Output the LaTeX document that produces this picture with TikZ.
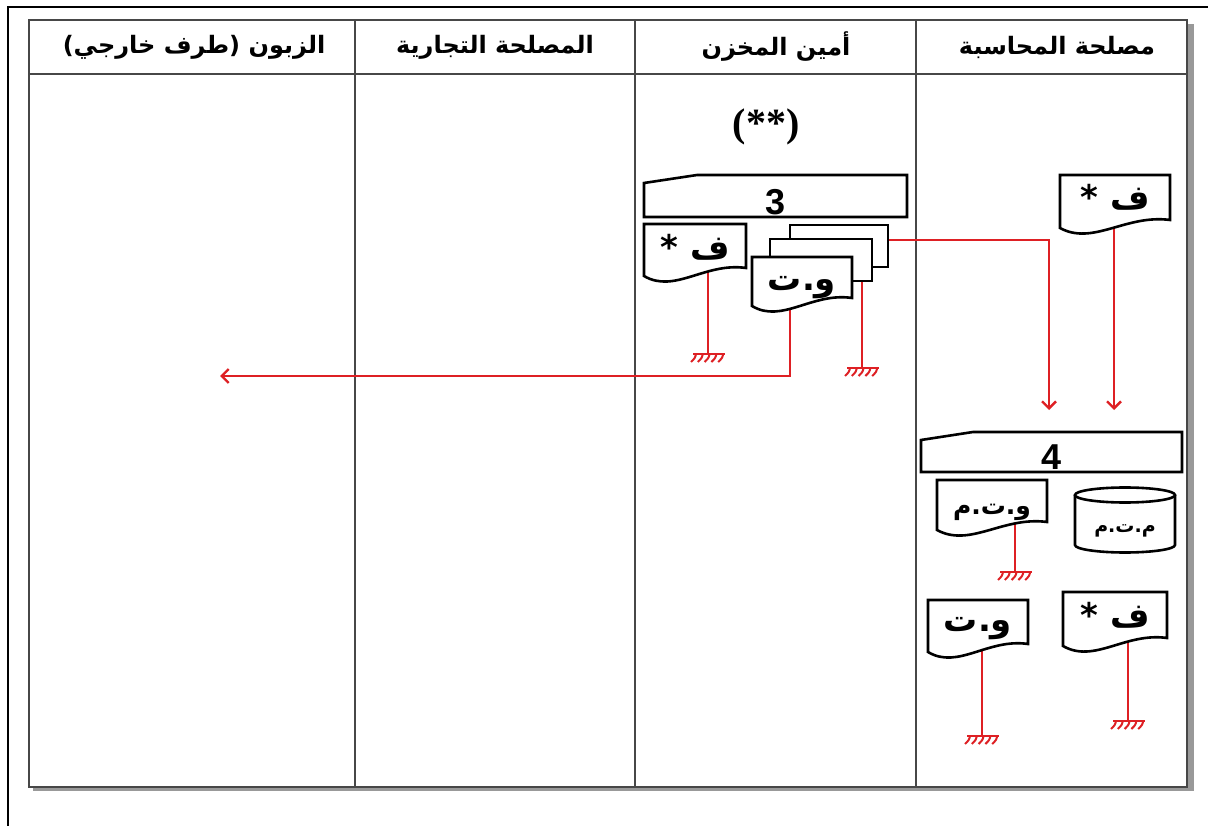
\documentclass[tikz,border=0pt]{standalone}
\usepackage{fontspec}
\newfontfamily\arabicfont[Script=Arabic]{DejaVu Sans}
\newfontfamily\latinsans{Liberation Sans}
\newfontfamily\latinserif{Liberation Serif}
\TeXXeTstate=1
\usetikzlibrary{calc,arrows.meta}
\definecolor{flowred}{RGB}{222,32,36}
\pgfdeclarelayer{lanes}
\pgfdeclarelayer{flowlines}
\pgfdeclarelayer{shapes}
\pgfsetlayers{lanes,flowlines,shapes,main}

% right-to-left bold Arabic text
\newcommand\artext[1]{\arabicfont\bfseries\beginR #1\endR}

% document symbol: name, left, top, right, bottom (left end of the wave), text, text y-offset
\newcommand\docsymbol[7]{%
  \begin{pgfonlayer}{shapes}
    \draw[outline] (#2,#3) -- (#4,#3) -- (#4,#5-8)
      .. controls ({#2+0.6*(#4-#2)},#5-14) and ({#2+0.3*(#4-#2)},#5+18) .. (#2,#5) -- cycle;
  \end{pgfonlayer}
  \node[doctext] (#1) at ({(#2+#4)/2},{(#3+#5)/2+#7}) {#6};
}
% process symbol with a slanted top-left corner: name, left, top, right, bottom, slant end, text
\newcommand\procsymbol[7]{%
  \begin{pgfonlayer}{shapes}
    \draw[outline] (#2,#5) -- (#2,#3+8) -- (#6,#3) -- (#4,#3) -- (#4,#5) -- cycle;
  \end{pgfonlayer}
  \node[proctext] (#1) at ({(#2+#4)/2},{#5-15}) {#7};
}

\tikzset{
  frameline/.style={line width=2.2pt, draw=black},
  laneline/.style={line width=2pt, draw=black!72},
  outline/.style={line width=2.6pt, draw=black, fill=white},
  flow/.style={line width=2.4pt, draw=flowred},
  flowarrow/.style={flow, -{Straight Barb[length=7pt,width=14pt,line width=2.4pt]}},
  head/.style={inner sep=0pt, font=\fontsize{24}{24}\selectfont},
  doctext/.style={inner sep=0pt, font=\fontsize{34}{34}\selectfont},
  smalltext/.style={inner sep=0pt, font=\fontsize{25}{25}\selectfont},
  cyltext/.style={inner sep=0pt, font=\fontsize{19}{19}\selectfont},
  proctext/.style={inner sep=0pt, font=\latinsans\bfseries\fontsize{36}{36}\selectfont},
  stackbox/.style={outline, inner sep=0pt, minimum width=#1pt, minimum height=42pt},
  ground/.pic={
    \draw[flow] (-15,0) -- (17,0);
    \foreach \k in {0,...,4}
      \draw[draw=flowred, line width=2pt] (-12+6.8*\k,0) .. controls (-13+6.8*\k,4) .. (-17+6.8*\k,8);
  }
}

\begin{document}
\begin{tikzpicture}[x=1pt,y=-1pt]
\useasboundingbox (0,0) rectangle (1208,826);

% page and swim lanes
\begin{pgfonlayer}{lanes}
  \fill[white] (0,0) rectangle (1208,826);
  \fill[black!40] (33,24) rectangle (1194,791);
  \fill[white] (29,20) rectangle (1187,787);
  \draw[laneline] (29,20) rectangle (1187,787);
  \draw[laneline] (29,74) -- (1187,74);
  \foreach \x in {355,635,916} \draw[laneline] (\x,20) -- (\x,787);
  \draw[frameline] (8,826) -- (8,7) -- (1208,7);
\end{pgfonlayer}

\node[head] (h1) at (194,47) {\artext{الزبون (طرف خارجي)}};
\node[head] (h2) at (495,47) {\artext{المصلحة التجارية}};
\node[head] (h3) at (776,47) {\artext{أمين المخزن}};
\node[head] (h4) at (1057,47) {\artext{مصلحة المحاسبة}};

% storekeeper lane
\node[inner sep=0pt, font=\latinserif\bfseries\fontsize{40}{40}\selectfont] (note) at (766,127) {(**)};
\procsymbol{p3}{644}{175}{907}{217}{697}{3}
\docsymbol{d1}{644}{224}{746}{276}{\artext{ف *}}{-3}
\begin{pgfonlayer}{shapes}
  \node[stackbox=98] (sb) at (839,246) {};
  \node[stackbox=102] (sm) at (821,260) {};
\end{pgfonlayer}
\docsymbol{d2}{752}{257}{852}{306}{\artext{و.ت}}{6}

% accounting lane
\docsymbol{d3}{1060}{175}{1170}{228}{\artext{ف *}}{-4}
\procsymbol{p4}{921}{432}{1182}{472}{973}{4}
\begin{pgfonlayer}{shapes}
  \draw[outline] (937,480) -- (1047,480) -- (1047,522)
    .. controls (1003,516) and (970,548) .. (937,530) -- cycle;
  \draw[outline] (1075,495) -- (1075,545) arc (180:0:50 and 7.5) -- (1175,495);
  \draw[outline] (1125,495) ellipse (50 and 7.5);
\end{pgfonlayer}
\node[smalltext] (d4) at (992,512) {\artext{و.ت.م}};
\node[cyltext] (cyl) at (1125,531) {\artext{م.ت.م}};
\docsymbol{d5}{928}{600}{1028}{652}{\artext{و.ت}}{3}
\docsymbol{d6}{1063}{592}{1167}{646}{\artext{ف *}}{-4}

% flow ends
\coordinate (g1) at (708,354);
\coordinate (g2) at (862,368);
\coordinate (g3) at (1015,572);
\coordinate (g4) at (982,736);
\coordinate (g5) at (1128,721);
\coordinate (t1) at (790,376);
\coordinate (a1) at (220,376);
\coordinate (a2) at (1049,410);
\coordinate (a3) at (1114,410);

\begin{pgfonlayer}{flowlines}
  \draw[flow] (d1.center -| g1) -- (g1);
  \draw[flow] (sm.center -| g2) -- (g2);
  \draw[flowarrow] (d2.center -| t1) -- (t1) -- (a1);
  \draw[flowarrow] ($(sb.north east)!0.36!(sb.south east)$) -| (a2);
  \draw[flowarrow] (d3.center -| a3) -- (a3);
  \draw[flow] (d4.center -| g3) -- (g3);
  \draw[flow] (d5.center -| g4) -- (g4);
  \draw[flow] (d6.center -| g5) -- (g5);
\end{pgfonlayer}

\foreach \g in {g1,g2,g3,g4,g5} \pic at (\g) {ground};
\end{tikzpicture}
\end{document}
